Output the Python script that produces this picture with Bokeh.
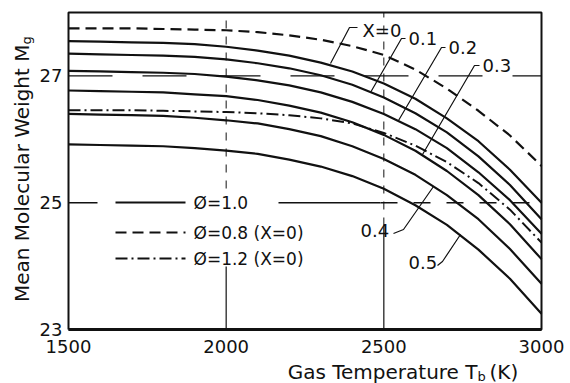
import math

from bokeh.core.properties import value
from bokeh.embed import file_html
from bokeh.models import FixedTicker, Label, Range1d
from bokeh.plotting import figure
from bokeh.resources import INLINE

# Gas temperature (K)
temps = [1500, 1600, 1700, 1800, 1900, 2000, 2100, 2200,
         2300, 2400, 2500, 2600, 2700, 2800, 2900, 3000]

# Mean molecular weight, phi = 1.0, for each value of X
mg_x00 = [27.55, 27.54, 27.53, 27.52, 27.50, 27.46, 27.40, 27.32,
          27.21, 27.07, 26.88, 26.64, 26.33, 25.97, 25.52, 25.00]
mg_x01 = [27.35, 27.34, 27.33, 27.32, 27.30, 27.26, 27.20, 27.12,
          27.01, 26.86, 26.66, 26.41, 26.11, 25.73, 25.28, 24.74]
mg_x02 = [27.08, 27.07, 27.06, 27.05, 27.03, 26.99, 26.93, 26.85,
          26.74, 26.59, 26.40, 26.16, 25.86, 25.48, 25.04, 24.51]
mg_x03 = [26.77, 26.76, 26.75, 26.74, 26.71, 26.68, 26.62, 26.53,
          26.42, 26.27, 26.07, 25.82, 25.50, 25.12, 24.66, 24.11]
mg_x04 = [26.40, 26.39, 26.38, 26.37, 26.34, 26.30, 26.25, 26.16,
          26.05, 25.89, 25.69, 25.44, 25.12, 24.74, 24.27, 23.72]
mg_x05 = [25.92, 25.91, 25.90, 25.89, 25.86, 25.82, 25.77, 25.68,
          25.57, 25.42, 25.22, 24.96, 24.65, 24.26, 23.80, 23.25]

# phi = 0.8 and phi = 1.2, both with X = 0
mg_phi08 = [27.75, 27.75, 27.75, 27.74, 27.73, 27.72, 27.69, 27.64,
            27.57, 27.47, 27.33, 27.10, 26.80, 26.45, 26.06, 25.58]
mg_phi12 = [26.46, 26.46, 26.46, 26.45, 26.44, 26.43, 26.41, 26.38,
            26.33, 26.25, 26.10, 25.90, 25.64, 25.31, 24.89, 24.37]

x_labels = ["X=0", "0.1", "0.2", "0.3", "0.4", "0.5"]
x_ticks = [1500, 2000, 2500, 3000]
y_ticks = [23, 25, 27]

FONT = "DejaVu Sans"
INK = "#111111"

W, H = 570, 383
# plot box on the canvas (pixels) and the values at its edges
BOX_L, BOX_R, BOX_T, BOX_B = 68, 541, 12, 329
X0, X1, Y0, Y1 = 1500, 3000, 23, 28
KX = (X1 - X0) / (BOX_R - BOX_L)
KY = (Y1 - Y0) / (BOX_B - BOX_T)
XR = (X0 - BOX_L * KX, X0 + (W - BOX_L) * KX)
YR = (Y0 - (H - BOX_B) * KY, Y0 + BOX_B * KY)


def sx(px):
    """Canvas pixel column -> temperature."""
    return XR[0] + px * KX


def sy(py):
    """Canvas pixel row -> molecular weight."""
    return YR[0] + (H - py) * KY


p = figure(width=W, height=H, output_backend="svg", toolbar_location=None,
           x_range=Range1d(*XR), y_range=Range1d(*YR),
           min_border=0)
p.grid.visible = False
p.background_fill_color = "white"
p.border_fill_color = "white"
p.outline_line_color = None

# axes pinned to the plot box edges
p.xaxis[0].fixed_location = Y0
p.yaxis[0].fixed_location = X0
for ax, ticks, standoff in ((p.xaxis[0], x_ticks, 10), (p.yaxis[0], y_ticks, 6)):
    ax.ticker = FixedTicker(ticks=ticks)
    ax.axis_line_color = None
    ax.major_tick_in = 0
    ax.major_tick_out = 0
    ax.minor_tick_in = 0
    ax.minor_tick_out = 0
    ax.major_label_text_font = FONT
    ax.major_label_text_font_size = "18px"
    ax.major_label_text_color = INK
    ax.major_label_standoff = standoff

# plot box
p.line([X0, X1, X1, X0, X0], [Y0, Y0, Y1, Y1, Y0], line_color=INK, line_width=2)
p.line([X0, X1], [Y0, Y0], line_color=INK, line_width=2.8)

# reference lines at 27 and 25, and at 2000 K and 2500 K
p.line([X0, X1], [27, 27], line_color=INK, line_width=1.2, line_dash="44 30")
p.line([X0, sx(97)], [25, 25], line_color=INK, line_width=1.5)
p.line([sx(278), sx(380)], [25, 25], line_color=INK, line_width=1.5)
p.line([sx(380), X1], [25, 25], line_color=INK, line_width=1.5, line_dash="17 16")
p.line([2000, 2000], [Y0, sy(266)], line_color=INK, line_width=1.2)
p.line([2000, 2000], [sy(188), Y1], line_color=INK, line_width=1.0, line_dash="8 8")
p.line([2500, 2500], [Y0, sy(225)], line_color=INK, line_width=1.2)
p.line([2500, 2500], [sy(225), Y1], line_color=INK, line_width=1.0, line_dash="8 8")

# curves
for ys in (mg_x00, mg_x01, mg_x02, mg_x03, mg_x04, mg_x05):
    p.line(temps, ys, line_color=INK, line_width=2.2)
p.line(temps, mg_phi08, line_color=INK, line_width=2.2, line_dash="11 6")
p.line(temps, mg_phi12, line_color=INK, line_width=2.0, line_dash="12 4 2 4")

# curve labels and their leaders
label_pos = [(362, 30), (408, 38), (448, 47), (482, 65), (360, 230), (408, 262)]
leaders = [
    [(357, 27), (349, 27), (330, 63)],
    [(405, 38), (401, 38), (370, 92)],
    [(445, 47), (441, 47), (398, 120)],
    [(479, 65), (474, 65), (422, 154)],
    [(393, 233), (403, 229), (433, 186)],
    [(437, 265), (442, 261), (460, 234)],
]
for txt, (lx, ly), pts in zip(x_labels, label_pos, leaders):
    p.text(x=[sx(lx)], y=[sy(ly)], text=[txt], text_font=value(FONT),
           text_font_size="18px", text_color=INK,
           text_align="left", text_baseline="middle")
    p.line([sx(a) for a, _ in pts], [sy(b) for _, b in pts],
           line_color=INK, line_width=1.2)

# key
key_rows = [("solid", "\u00d8=1.0", 202), ("11 6", "\u00d8=0.8 (X=0)", 232),
            ("12 4 2 4", "\u00d8=1.2 (X=0)", 258)]
for dash, txt, row in key_rows:
    p.line([sx(115), sx(185)], [sy(row), sy(row)], line_color=INK,
           line_width=2.2, line_dash=dash)
    p.text(x=[sx(193)], y=[sy(row)], text=[txt], text_font=value(FONT),
           text_font_size="17px", text_color=INK,
           text_align="left", text_baseline="middle")

# axis titles, with subscripts
big = dict(text_font=FONT, text_color=INK, text_font_size="20px",
           text_baseline="middle")
small = dict(text_font=FONT, text_color=INK, text_font_size="13px",
             text_baseline="middle")
p.add_layout(Label(x=sx(477), y=sy(371), text="Gas Temperature T",
                   text_align="right", **big))
p.add_layout(Label(x=sx(477), y=sy(376), text="b", text_align="left", **small))
p.add_layout(Label(x=sx(489), y=sy(371), text="(K)", text_align="left", **big))
p.add_layout(Label(x=sx(21), y=sy(44), text="Mean Molecular Weight M",
                   angle=math.pi / 2, text_align="right", **big))
p.add_layout(Label(x=sx(26), y=sy(44), text="g", angle=math.pi / 2,
                   text_align="left", **small))

open("out.html", "w").write(file_html(p, INLINE))
